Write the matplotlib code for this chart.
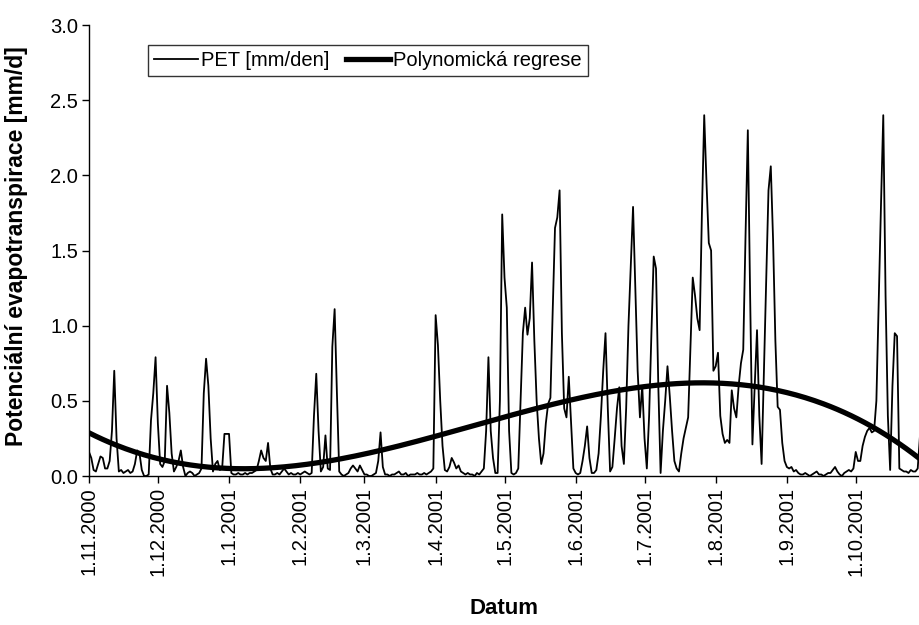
import numpy as np
import matplotlib
matplotlib.use("Agg")
import matplotlib.pyplot as plt
import matplotlib.dates as mdates
from matplotlib.ticker import FuncFormatter

plt.rcParams['font.family'] = ['Liberation Sans', 'DejaVu Sans']

# daily PET [mm/den], starting 1.11.2000
start_date = '2000-11-01'
pet_nov = [0.16, 0.12, 0.04, 0.03, 0.08, 0.13, 0.12, 0.05, 0.05, 0.10,
           0.30, 0.70, 0.25, 0.03, 0.04, 0.02, 0.03, 0.04, 0.02, 0.03,
           0.08, 0.17, 0.15, 0.04, 0.00, 0.00, 0.01, 0.37, 0.55, 0.79]
pet_dec = [0.35, 0.08, 0.06, 0.10, 0.60, 0.42, 0.15, 0.03, 0.06, 0.10,
           0.17, 0.06, 0.00, 0.02, 0.03, 0.02, 0.00, 0.01, 0.02, 0.05,
           0.55, 0.78, 0.60, 0.25, 0.03, 0.08, 0.10, 0.04, 0.05, 0.28,
           0.28]
pet_jan = [0.28, 0.02, 0.01, 0.01, 0.02, 0.01, 0.01, 0.02, 0.01, 0.02,
           0.02, 0.03, 0.04, 0.10, 0.17, 0.12, 0.10, 0.22, 0.05, 0.01,
           0.01, 0.02, 0.01, 0.03, 0.05, 0.03, 0.01, 0.02, 0.01, 0.01,
           0.02]
pet_feb = [0.01, 0.02, 0.03, 0.02, 0.01, 0.02, 0.40, 0.68, 0.30, 0.03,
           0.06, 0.27, 0.05, 0.04, 0.86, 1.11, 0.55, 0.03, 0.01, 0.00,
           0.01, 0.02, 0.05, 0.07, 0.05, 0.03, 0.07, 0.04]
pet_mar = [0.01, 0.01, 0.00, 0.00, 0.01, 0.02, 0.10, 0.29, 0.06, 0.01,
           0.01, 0.00, 0.01, 0.01, 0.02, 0.03, 0.01, 0.01, 0.02, 0.00,
           0.01, 0.01, 0.01, 0.02, 0.01, 0.01, 0.02, 0.01, 0.02, 0.03,
           0.05]
pet_apr = [1.07, 0.87, 0.50, 0.20, 0.04, 0.03, 0.06, 0.12, 0.09, 0.05,
           0.07, 0.03, 0.02, 0.01, 0.02, 0.01, 0.01, 0.00, 0.02, 0.01,
           0.03, 0.05, 0.30, 0.79, 0.30, 0.12, 0.02, 0.02, 0.50, 1.74]
pet_may = [1.32, 1.12, 0.30, 0.02, 0.01, 0.02, 0.05, 0.50, 0.95, 1.12,
           0.94, 1.05, 1.42, 0.90, 0.50, 0.25, 0.08, 0.15, 0.35, 0.48,
           0.52, 1.10, 1.65, 1.72, 1.90, 0.95, 0.45, 0.39, 0.66, 0.35,
           0.05]
pet_jun = [0.02, 0.01, 0.02, 0.10, 0.20, 0.33, 0.12, 0.02, 0.02, 0.04,
           0.15, 0.40, 0.70, 0.95, 0.45, 0.03, 0.06, 0.25, 0.45, 0.59,
           0.20, 0.08, 0.45, 1.00, 1.40, 1.79, 1.24, 0.70, 0.39, 0.60]
pet_jul = [0.25, 0.05, 0.40, 0.95, 1.46, 1.38, 0.60, 0.02, 0.30, 0.50,
           0.73, 0.53, 0.30, 0.10, 0.05, 0.03, 0.15, 0.25, 0.32, 0.39,
           0.85, 1.32, 1.20, 1.05, 0.97, 1.75, 2.40, 1.95, 1.55, 1.50,
           0.70]
pet_aug = [0.73, 0.82, 0.40, 0.28, 0.22, 0.24, 0.22, 0.57, 0.45, 0.39,
           0.60, 0.75, 0.84, 1.60, 2.30, 1.20, 0.21, 0.60, 0.97, 0.40,
           0.08, 0.70, 1.30, 1.90, 2.06, 1.57, 0.90, 0.46, 0.44, 0.22,
           0.10]
pet_sep = [0.06, 0.05, 0.06, 0.03, 0.04, 0.02, 0.01, 0.01, 0.02, 0.01,
           0.00, 0.01, 0.02, 0.03, 0.01, 0.01, 0.00, 0.01, 0.02, 0.02,
           0.04, 0.06, 0.03, 0.01, 0.00, 0.02, 0.03, 0.04, 0.03, 0.05]
pet_oct = [0.16, 0.10, 0.10, 0.20, 0.26, 0.30, 0.32, 0.29, 0.30, 0.50,
           1.15, 1.80, 2.40, 1.20, 0.40, 0.04, 0.60, 0.95, 0.93, 0.05,
           0.04, 0.03, 0.03, 0.02, 0.04, 0.03, 0.03, 0.05, 0.27]

pet = np.array(pet_nov + pet_dec + pet_jan + pet_feb + pet_mar + pet_apr +
               pet_may + pet_jun + pet_jul + pet_aug + pet_sep + pet_oct)
days = np.arange(len(pet))
dates = np.datetime64(start_date) + days

# polynomial trend (3rd order) through the daily values
trend = np.polyval(np.polyfit(days, pet, 3), days)

fig = plt.figure(figsize=(9.2, 6.25), dpi=100)
ax = fig.add_axes([89/920, 1 - 476/625, 831/920, 451/625])

ax.plot(dates, pet, color='black', lw=1.3, label='PET [mm/den]')
ax.plot(dates, trend, color='black', lw=3.8, label='Polynomická regrese')

ax.set_xlim(dates[0], dates[-1])
ax.set_ylim(0, 3)
ax.set_yticks(np.arange(0, 3.01, 0.5))
ax.yaxis.set_major_formatter(FuncFormatter(lambda v, p: f'{v:.1f}'))

ax.xaxis.set_major_locator(mdates.MonthLocator(bymonthday=1))
ax.xaxis.set_major_formatter(FuncFormatter(
    lambda v, p: '{0.day}.{0.month}.{0.year}'.format(mdates.num2date(v))))
plt.setp(ax.get_xticklabels(), rotation=90)

for s in ['top', 'right']:
    ax.spines[s].set_visible(False)
for s in ['left', 'bottom']:
    ax.spines[s].set_linewidth(1.0)
ax.tick_params(direction='out', length=5, width=1, labelsize=14.5, pad=3)

ax.set_ylabel('Potenciální evapotranspirace [mm/d]', fontsize=16.5,
              fontweight='bold')
ax.yaxis.set_label_coords(-0.074, 0.51)
ax.set_xlabel('Datum', fontsize=16, fontweight='bold')
ax.xaxis.set_label_coords(0.5, -0.27)

leg = ax.legend(loc='upper left', bbox_to_anchor=(0.071, 0.955), ncol=2,
                frameon=True, fancybox=False, borderaxespad=0,
                handlelength=2.2, handletextpad=0.15, columnspacing=0.8,
                fontsize=14.5, borderpad=0.3)
leg.get_frame().set_edgecolor('black')
leg.get_frame().set_linewidth(1.0)

fig.savefig('out.png', dpi=100)
